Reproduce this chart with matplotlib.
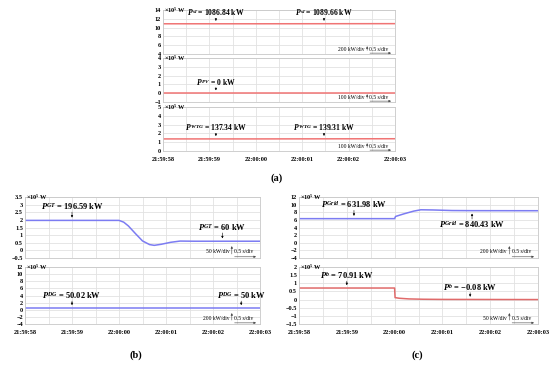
import matplotlib.pyplot as plt
import numpy as np

plt.rcParams['font.family'] = 'Liberation Serif'
plt.rcParams['mathtext.fontset'] = 'custom'
plt.rcParams['mathtext.it'] = 'Liberation Serif:italic:bold'
plt.rcParams['mathtext.rm'] = 'Liberation Serif:bold'
plt.rcParams['mathtext.bf'] = 'Liberation Serif:bold'

# time in seconds after 21:59:58
time_labels = ['21:59:58', '21:59:59', '22:00:00', '22:00:01', '22:00:02', '22:00:03']

# panel (a), values in 1e5 W
t_load = [0, 2.0, 5.0]
p_load = [10.868, 10.868, 10.897]
t_pv = [0, 5.0]
p_pv = [0.0, 0.0]
t_wtg = [0, 2.0, 5.0]
p_wtg = [1.373, 1.373, 1.393]

# panel (b)
t_gt = [0, 2.0, 2.1, 2.2, 2.35, 2.5, 2.65, 2.75, 2.9, 3.1, 3.3, 3.6, 5.0]
p_gt = [1.966, 1.966, 1.85, 1.6, 1.1, 0.62, 0.38, 0.33, 0.40, 0.53, 0.61, 0.60, 0.60]
t_dg = [0, 5.0]
p_dg = [0.50, 0.50]

# panel (c)
t_grid = [0, 2.0, 2.02, 2.2, 2.4, 2.55, 2.8, 3.2, 3.6, 5.0]
p_grid = [6.32, 6.32, 6.9, 7.6, 8.3, 8.65, 8.6, 8.45, 8.42, 8.40]
t_bat = [0, 2.0, 2.01, 2.1, 2.3, 2.6, 3.0, 5.0]
p_bat = [0.709, 0.709, 0.12, 0.08, 0.04, 0.02, 0.01, 0.0]

RED = '#f07474'
BLUE = '#7c7cf2'
W, H = 550, 368

fig = plt.figure(figsize=(5.5, 3.68), dpi=100)


def make_ax(x0, x1, y0, y1, ylim, ystep, show_time, scale_txt):
    ax = fig.add_axes([x0 / W, 1 - y1 / H, (x1 - x0) / W, (y1 - y0) / H])
    ax.set_xlim(0, 5)
    ax.set_ylim(*ylim)
    ax.set_xticks(range(6))
    ax.set_xticks(np.arange(0, 5.01, 0.5), minor=True)
    yt = np.arange(ylim[0], ylim[1] + ystep / 2, ystep)
    ax.set_yticks(yt)
    ax.set_yticklabels(['{:g}'.format(v).replace('-', '\u2212') for v in yt],
                       fontsize=4.5, fontweight='bold')
    if show_time:
        ax.set_xticklabels(time_labels, fontsize=4.5, fontweight='bold')
    else:
        ax.set_xticklabels([])
    ax.tick_params(axis='y', length=0, pad=1.5)
    ax.tick_params(axis='x', length=0, pad=4)
    ax.tick_params(which='minor', length=0)
    ax.grid(True, which='both', axis='x', color='#e2e2e2', lw=0.6)
    ax.grid(True, which='major', axis='y', color='#e2e2e2', lw=0.6)
    for s in ax.spines.values():
        s.set_color('#c8c8c8')
        s.set_linewidth(0.6)
    ax.text(0.005, 1.0, r'$\times$10$^5$ W', transform=ax.transAxes, fontsize=4.5,
            fontweight='bold', va='center', ha='left')
    # scale indicator
    ax.text(0.87, 0.1, scale_txt, transform=ax.transAxes, fontsize=4,
            ha='right', va='center')
    ax.annotate('', xy=(0.88, 0.24), xytext=(0.88, 0.02), xycoords='axes fraction',
                arrowprops=dict(arrowstyle='-|>', lw=0.4, color='#444444', mutation_scale=3))
    ax.annotate('', xy=(0.995, 0.02), xytext=(0.88, 0.02), xycoords='axes fraction',
                arrowprops=dict(arrowstyle='-|>', lw=0.4, color='#444444', mutation_scale=3))
    ax.text(0.89, 0.1, '0.5 s/div', transform=ax.transAxes, fontsize=4,
            ha='left', va='center')
    return ax


def label(ax, t, v, s, up=True, gap=7, fs=6):
    d = gap if up else -gap
    ax.annotate(s, xy=(t, v), xytext=(0, d), textcoords='offset points',
                ha='center', va='bottom' if up else 'top', fontsize=fs, fontweight='bold')
    ax.annotate('', xy=(t, v), xytext=(0, d), textcoords='offset points',
                arrowprops=dict(arrowstyle='-|>', lw=0.4, color='black',
                                mutation_scale=3, shrinkA=0, shrinkB=2))


# ---- panel (a)
a1 = make_ax(163, 395, 10, 54, (4, 14), 2, False, '200 kW/div')
a1.plot(t_load, p_load, color=RED, lw=1.1)
label(a1, 1.14, p_load[0], r'$P^{sl}$ = 1086.84 kW', gap=4, fs=5.5)
label(a1, 3.47, p_load[-1], r'$P^{sl}$ = 1089.66 kW', gap=4, fs=5.5)

a2 = make_ax(163, 395, 58, 102, (-1, 4), 1, False, '100 kW/div')
a2.plot(t_pv, p_pv, color=RED, lw=1.1)
label(a2, 1.14, 0, r'$P^{PV}$ = 0 kW', gap=4, fs=5.5)

a3 = make_ax(163, 395, 107, 151, (0, 5), 1, True, '100 kW/div')
a3.plot(t_wtg, p_wtg, color=RED, lw=1.1)
label(a3, 1.14, p_wtg[0], r'$P^{WTG}$ = 137.34 kW', gap=4, fs=5.5)
label(a3, 3.47, p_wtg[-1], r'$P^{WTG}$ = 139.31 kW', gap=4, fs=5.5)
fig.text(277 / W, 1 - 178 / H, '(a)', fontsize=7.5, fontweight='bold', ha='center', va='center')

# ---- panel (b)
b1 = make_ax(25, 260, 197, 258, (-0.5, 3.5), 0.5, False, '50 kW/div')
b1.plot(t_gt, p_gt, color=BLUE, lw=1.1)
label(b1, 1.0, p_gt[0], r'$P^{GT}$ = 196.59 kW', gap=6)
label(b1, 4.2, p_gt[-1], r'$P^{GT}$ = 60 kW', gap=6)

b2 = make_ax(25, 260, 267, 324, (-4, 12), 2, True, '200 kW/div')
b2.plot(t_dg, p_dg, color=BLUE, lw=1.1)
label(b2, 1.0, p_dg[0], r'$P^{DG}$ = 50.02 kW', gap=5)
label(b2, 4.6, p_dg[-1], r'$P^{DG}$ = 50 kW', gap=5)
fig.text(136 / W, 1 - 355 / H, '(b)', fontsize=7.5, fontweight='bold', ha='center', va='center')

# ---- panel (c)
c1 = make_ax(299, 538, 197, 258, (-4, 12), 2, False, '200 kW/div')
c1.plot(t_grid, p_grid, color=BLUE, lw=1.1)
label(c1, 1.15, p_grid[0], r'$P^{Grid}$ = 631.98 kW', gap=6)
label(c1, 3.62, p_grid[-1], r'$P^{Grid}$ = 840.43 kW', up=False, gap=6)

c2 = make_ax(299, 538, 267, 324, (-1.5, 2), 0.5, True, '50 kW/div')
c2.plot(t_bat, p_bat, color='#e06a6a', lw=1.1)
label(c2, 1.0, p_bat[0], r'$P^{b}$ = 70.91 kW', gap=5)
label(c2, 3.58, p_bat[-1], r'$P^{b}$ = $-$0.08 kW', gap=5)
fig.text(417 / W, 1 - 355 / H, '(c)', fontsize=7.5, fontweight='bold', ha='center', va='center')

fig.savefig('out.png', dpi=100)
